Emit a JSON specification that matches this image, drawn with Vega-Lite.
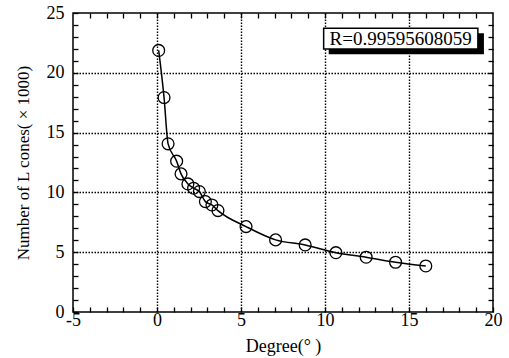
{
  "$schema": "https://vega.github.io/schema/vega-lite/v6.json",
  "width": 420,
  "height": 299,
  "autosize": {"type": "none"},
  "padding": {"left": 73, "top": 13, "right": 16, "bottom": 46},
  "background": "white",
  "config": {
    "view": {"stroke": "black", "strokeWidth": 1.5},
    "axis": {
      "labelFont": "Liberation Serif",
      "labelFontSize": 18,
      "labelColor": "black",
      "titleFont": "Liberation Serif",
      "titleFontSize": 18,
      "titleFontWeight": "normal",
      "titleColor": "black",
      "tickColor": "black",
      "tickWidth": 1.3,
      "domain": false,
      "labelOverlap": false,
      "labelFlush": false
    }
  },
  "datasets": {
    "cones": [
      {"degree": 0.1, "cones": 21.87},
      {"degree": 0.42, "cones": 17.93},
      {"degree": 0.66, "cones": 14.06},
      {"degree": 1.17, "cones": 12.61},
      {"degree": 1.43, "cones": 11.55},
      {"degree": 1.84, "cones": 10.71},
      {"degree": 2.18, "cones": 10.35},
      {"degree": 2.52, "cones": 10.07},
      {"degree": 2.88, "cones": 9.23},
      {"degree": 3.27, "cones": 8.95},
      {"degree": 3.63, "cones": 8.48},
      {"degree": 5.3, "cones": 7.14},
      {"degree": 7.06, "cones": 6.03},
      {"degree": 8.82, "cones": 5.61},
      {"degree": 10.65, "cones": 4.96},
      {"degree": 12.45, "cones": 4.58},
      {"degree": 14.2, "cones": 4.16},
      {"degree": 16.0, "cones": 3.85}
    ],
    "note": [{"label": "R=0.99595608059"}]
  },
  "layer": [
    {
      "data": {"name": "cones"},
      "mark": {"type": "line", "interpolate": "monotone", "color": "black", "strokeWidth": 1.5},
      "encoding": {
        "x": {
          "field": "degree", "type": "quantitative",
          "scale": {"domain": [-5, 20], "nice": false, "zero": false},
          "axis": {"orient": "top", "values": [-4,-3,-2,-1,0,1,2,3,4,5,6,7,8,9,10,11,12,13,14,15,16,17,18,19], "labels": false, "tickSize": -5, "grid": false, "title": null}
        },
        "y": {
          "field": "cones", "type": "quantitative",
          "scale": {"domain": [0, 25], "nice": false, "zero": false},
          "axis": {"orient": "right", "values": [1,2,3,4,5,6,7,8,9,10,11,12,13,14,15,16,17,18,19,20,21,22,23,24], "labels": false, "tickSize": -5, "grid": false, "title": null}
        }
      }
    },
    {
      "data": {"name": "cones"},
      "mark": {"type": "point", "shape": "circle", "size": 140, "filled": false, "stroke": "black", "strokeWidth": 1.3, "opacity": 1},
      "encoding": {
        "x": {
          "field": "degree", "type": "quantitative",
          "axis": {
            "orient": "bottom",
            "values": [-5,-4,-3,-2,-1,0,1,2,3,4,5,6,7,8,9,10,11,12,13,14,15,16,17,18,19,20],
            "labelExpr": "datum.value % 5 === 0 ? '' + datum.value : ''",
            "tickSize": -5,
            "labelPadding": 4,
            "grid": true,
            "gridColor": "black",
            "gridDash": [1.5, 1.5],
            "gridWidth": 1.4,
            "gridOpacity": {"condition": {"test": "datum.value % 5 === 0 && datum.value > -5 && datum.value < 20", "value": 1}, "value": 0},
            "title": "Degree(°  )",
            "titlePadding": 8
          }
        },
        "y": {
          "field": "cones", "type": "quantitative",
          "axis": {
            "orient": "left",
            "values": [0,1,2,3,4,5,6,7,8,9,10,11,12,13,14,15,16,17,18,19,20,21,22,23,24,25],
            "labelExpr": "datum.value % 5 === 0 ? '' + datum.value : ''",
            "tickSize": -5,
            "labelPadding": 14,
            "grid": true,
            "gridColor": "black",
            "gridDash": [1.5, 1.5],
            "gridWidth": 1.4,
            "gridOpacity": {"condition": {"test": "datum.value % 5 === 0 && datum.value > 0 && datum.value < 25", "value": 1}, "value": 0},
            "title": "Number of L cones( × 1000)",
            "titleFontSize": 17,
            "titlePadding": 14
          }
        }
      }
    },
    {
      "data": {"name": "note"},
      "mark": {"type": "rect", "fill": "black"},
      "encoding": {
        "x": {"datum": 10.22, "type": "quantitative", "axis": null},
        "x2": {"datum": 19.46},
        "y": {"datum": 23.31, "type": "quantitative", "axis": null},
        "y2": {"datum": 21.56}
      }
    },
    {
      "data": {"name": "note"},
      "mark": {"type": "rect", "fill": "white", "stroke": "black", "strokeWidth": 1.5},
      "encoding": {
        "x": {"datum": 9.92, "type": "quantitative", "axis": null},
        "x2": {"datum": 19.1},
        "y": {"datum": 23.73, "type": "quantitative", "axis": null},
        "y2": {"datum": 21.98}
      }
    },
    {
      "data": {"name": "note"},
      "mark": {"type": "text", "font": "Liberation Serif", "fontSize": 19, "color": "black", "align": "center", "baseline": "middle"},
      "encoding": {
        "x": {"datum": 14.5, "type": "quantitative", "axis": null},
        "y": {"datum": 22.85, "type": "quantitative", "axis": null},
        "text": {"field": "label"}
      }
    }
  ]
}
